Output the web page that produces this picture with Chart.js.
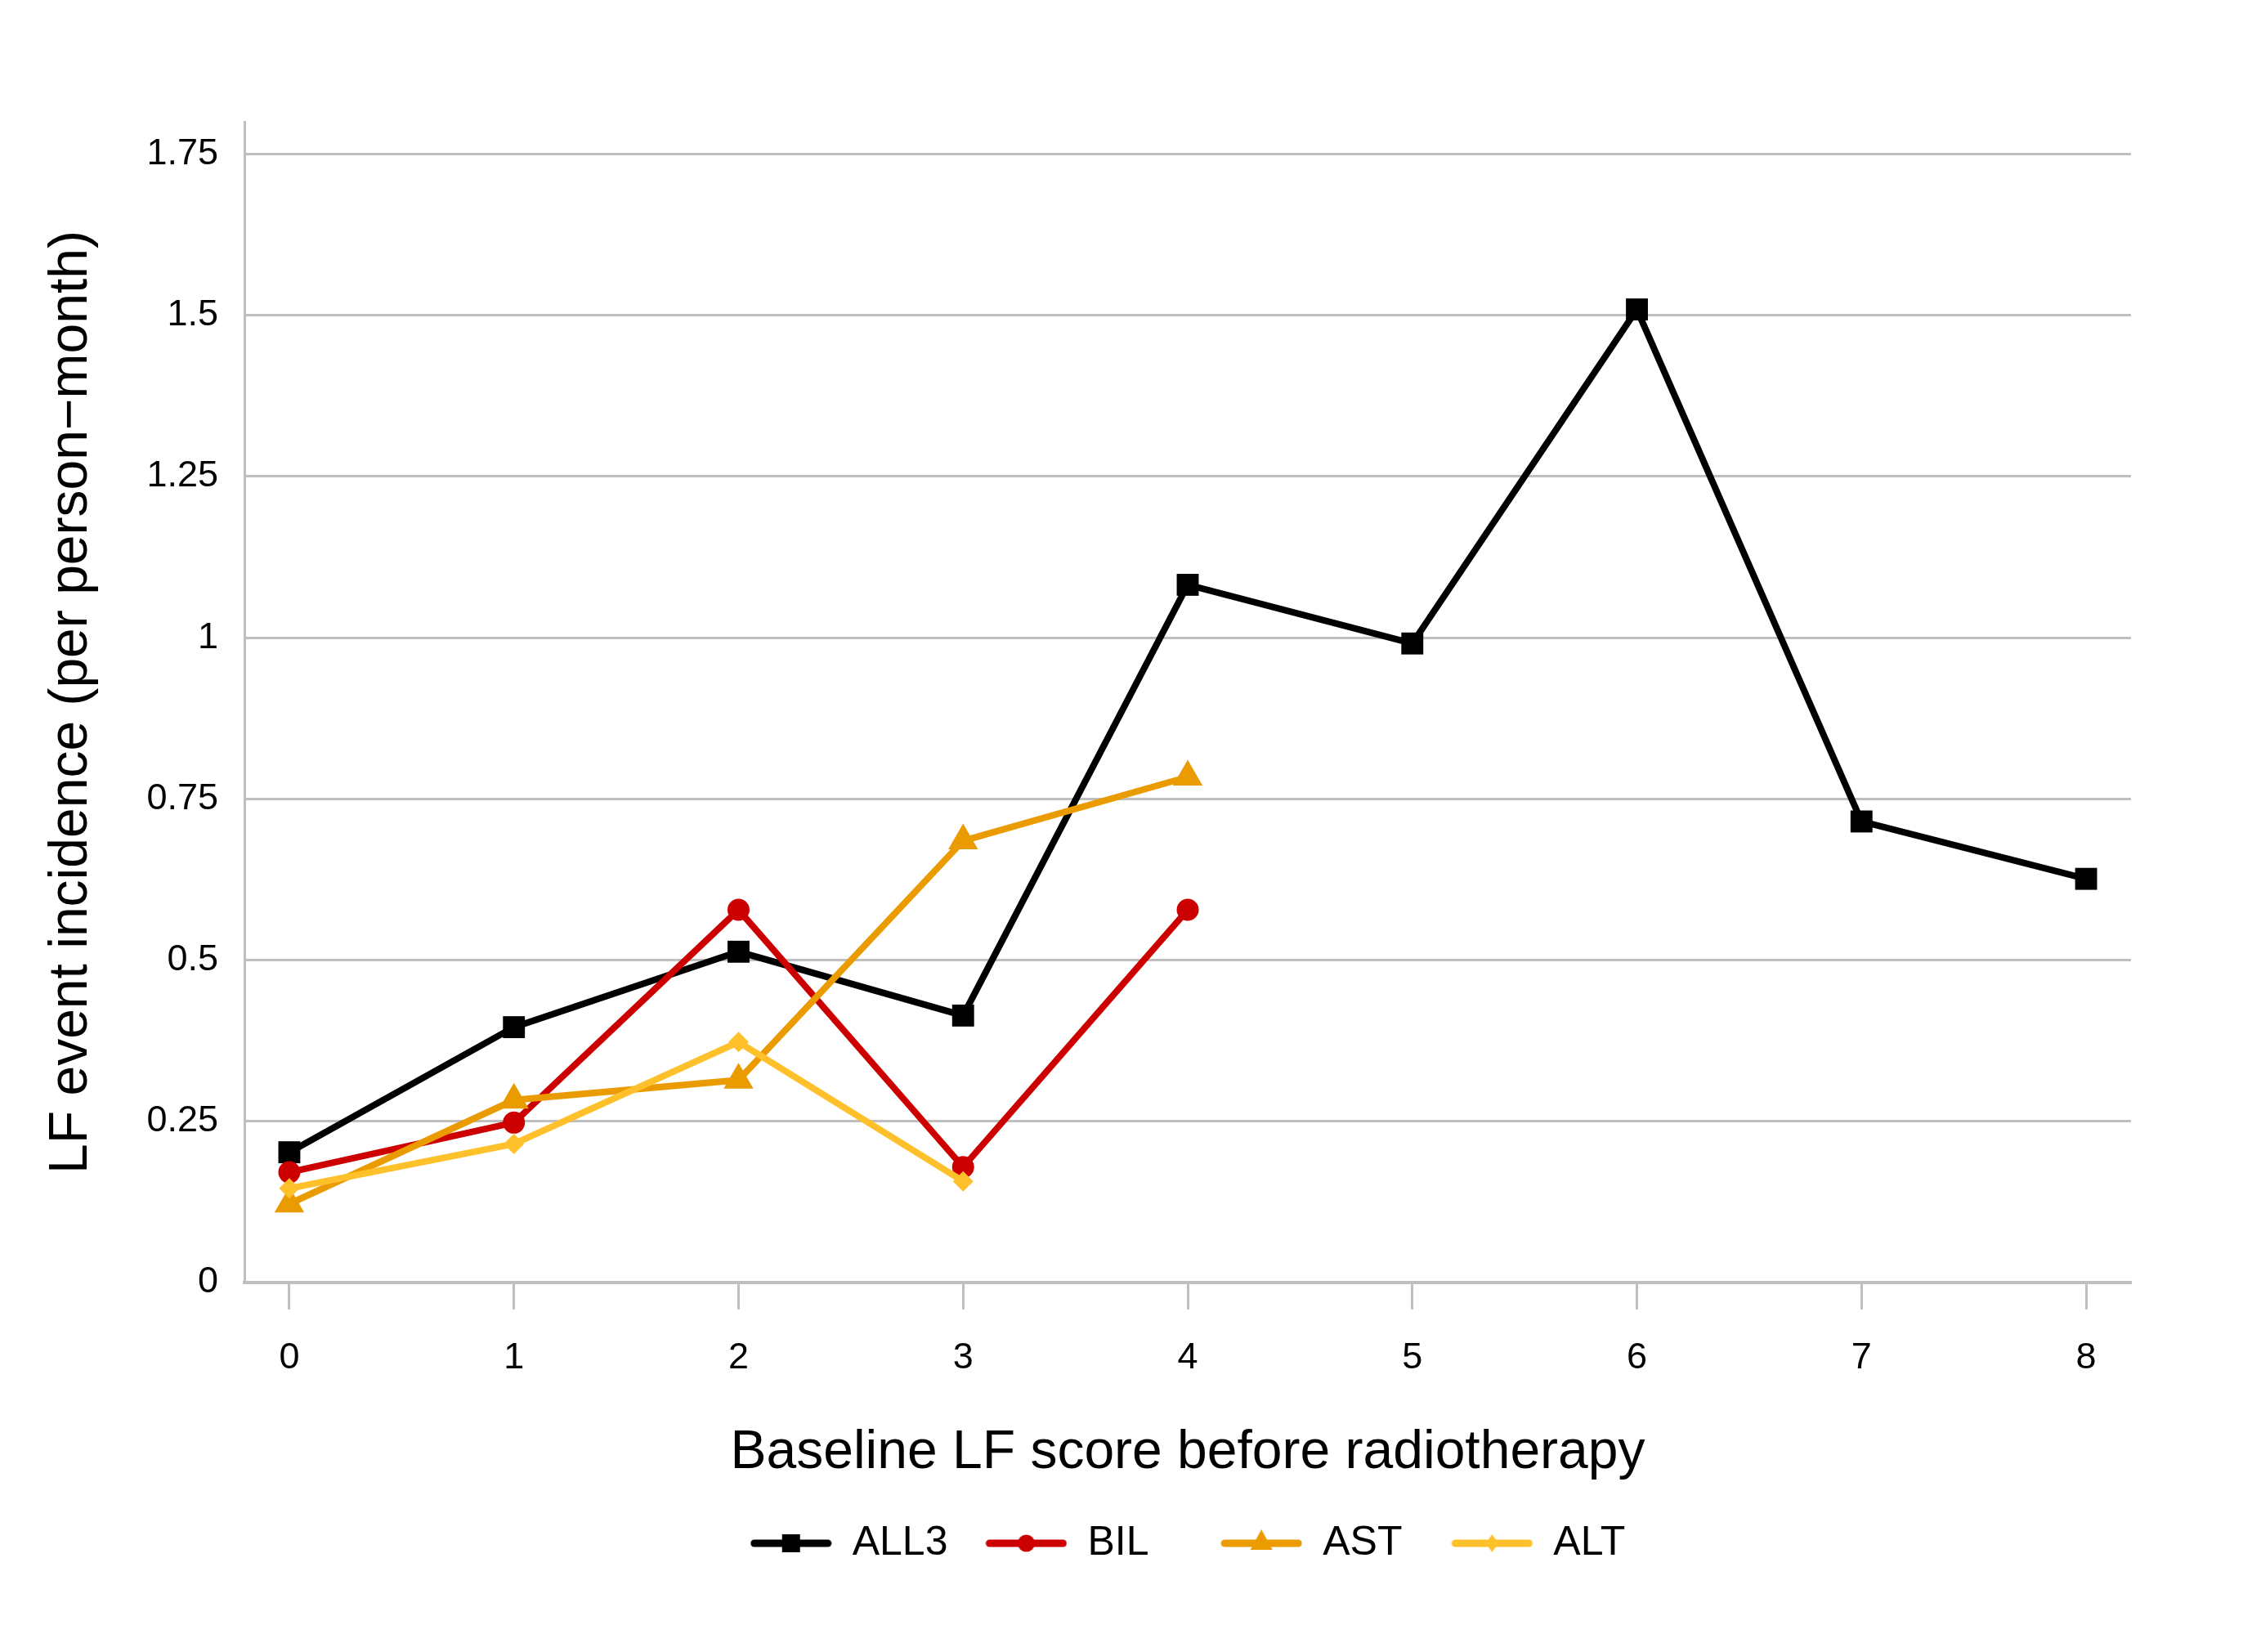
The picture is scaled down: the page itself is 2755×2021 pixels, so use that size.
<!DOCTYPE html>
<html>
<head>
<meta charset="utf-8">
<script src="https://cdn.jsdelivr.net/npm/chart.js@4.4.1/dist/chart.umd.min.js"></script>
<style>
  html, body { margin: 0; padding: 0; background: #ffffff; }
  #wrap { width: 2755px; height: 2021px; }
</style>
</head>
<body>
<div id="wrap"><canvas id="c" width="2755" height="2021"></canvas></div>
<script>
// ---- data ----
const scores = [0, 1, 2, 3, 4, 5, 6, 7, 8];
const all3 = [0.202, 0.396, 0.513, 0.414, 1.082, 0.991, 1.509, 0.715, 0.626];
const bil  = [0.171, 0.248, 0.578, 0.179, 0.578];
const ast  = [0.122, 0.283, 0.314, 0.685, 0.784];
const alt  = [0.146, 0.215, 0.373, 0.157];
const seriesNames = ['ALL3', 'BIL', 'AST', 'ALT'];
const yTicks = [0, 0.25, 0.5, 0.75, 1, 1.25, 1.5, 1.75];
const yTickLabels = ['0', '0.25', '0.5', '0.75', '1', '1.25', '1.5', '1.75'];
const xTitle = 'Baseline LF score before radiotherapy';
const yTitle = 'LF event incidence (per person\u2212month)';

const colors = ['#000000', '#CC0000', '#EA9B00', '#FFC12B'];
const FONT = "'Liberation Sans', Arial, Helvetica, sans-serif";
const LEGEND_SIZE = 50;

function toPoints(vals) { return vals.map((v, i) => ({ x: scores[i], y: v })); }

function makeIcon(color, shape) {
  const c = document.createElement('canvas');
  c.width = 100; c.height = 40;
  const g = c.getContext('2d');
  g.strokeStyle = color; g.lineWidth = 9; g.lineCap = 'round';
  g.beginPath(); g.moveTo(5, 20); g.lineTo(95, 20); g.stroke();
  g.fillStyle = color; g.beginPath();
  if (shape === 'rect') { g.rect(39, 9, 22, 22); }
  else if (shape === 'circle') { g.arc(50, 20, 10.5, 0, Math.PI * 2); }
  else if (shape === 'triangle') { g.moveTo(50, 3); g.lineTo(63.5, 28); g.lineTo(36.5, 28); g.closePath(); }
  else { g.moveTo(50, 9); g.lineTo(57.5, 20); g.lineTo(50, 31); g.lineTo(42.5, 20); g.closePath(); }
  g.fill();
  return c;
}
const shapes = ['rect', 'circle', 'triangle', 'rectRot'];
const radii = [19, 13.5, 21, 12.5];
const icons = shapes.map((s, i) => makeIcon(colors[i], s));
const seriesData = [all3, bil, ast, alt];

// legend entries laid out in equal-width columns (pad shorter names with spaces)
const measureCtx = document.createElement('canvas').getContext('2d');
measureCtx.font = LEGEND_SIZE + 'px ' + FONT;
const maxNameW = Math.max(...seriesNames.map(n => measureCtx.measureText(n).width));
function padName(name, isLast) {
  if (isLast) return name;
  let t = name;
  while (Math.abs(measureCtx.measureText(t + ' ').width - maxNameW) < Math.abs(measureCtx.measureText(t).width - maxNameW)) t += ' ';
  return t;
}

const datasets = seriesData.map((vals, i) => ({
  label: seriesNames[i],
  data: toPoints(vals),
  borderColor: colors[i],
  backgroundColor: colors[i],
  borderWidth: 8,
  pointStyle: shapes[i],
  pointRadius: radii[i],
  pointHoverRadius: radii[i],
  pointBorderWidth: 0,
  pointBackgroundColor: colors[i],
  tension: 0,
  order: 4 - i
}));

new Chart(document.getElementById('c'), {
  type: 'line',
  data: { datasets },
  options: {
    responsive: false,
    animation: false,
    devicePixelRatio: 1,
    layout: { padding: { left: 48, right: 148, top: 149, bottom: 98 } },
    plugins: {
      tooltip: { enabled: false },
      legend: {
        position: 'bottom',
        fullSize: false,
        labels: {
          usePointStyle: true,
          pointStyleWidth: 100,
          padding: 46,
          color: '#000',
          font: { family: FONT, size: LEGEND_SIZE },
          generateLabels: (chart) => chart.data.datasets.map((ds, i, arr) => ({
            text: padName(ds.label, i === arr.length - 1),
            fillStyle: ds.borderColor,
            strokeStyle: ds.borderColor,
            lineWidth: 0,
            pointStyle: icons[i],
            hidden: false,
            datasetIndex: i,
            fontColor: '#000'
          }))
        }
      }
    },
    scales: {
      x: {
        type: 'linear',
        min: -0.2,
        max: 8.2,
        afterBuildTicks: (s) => { s.ticks = scores.map(v => ({ value: v })); },
        afterFit: (s) => { s.height = 248; },
        ticks: {
          color: '#000',
          font: { family: FONT, size: 45 },
          padding: 33,
          maxRotation: 0,
          callback: (v) => String(v)
        },
        grid: {
          drawOnChartArea: false,
          drawTicks: true,
          tickLength: 33,
          tickColor: '#BFBFBF',
          tickWidth: 3
        },
        border: { display: true, color: '#BFBFBF', width: 4 },
        title: {
          display: true,
          text: xTitle,
          color: '#000',
          font: { family: FONT, size: 66 },
          padding: { top: 0, bottom: 0 }
        }
      },
      y: {
        type: 'linear',
        min: 0,
        max: 1.8,
        afterBuildTicks: (s) => { s.ticks = yTicks.map(v => ({ value: v })); },
        afterFit: (s) => { s.width = 251; },
        ticks: {
          color: '#000',
          font: { family: FONT, size: 45 },
          padding: 32,
          callback: (v, i) => yTickLabels[i]
        },
        grid: {
          color: '#BFBFBF',
          lineWidth: 3,
          drawTicks: false
        },
        border: { display: true, color: '#BFBFBF', width: 3 },
        title: {
          display: true,
          text: yTitle,
          color: '#000',
          font: { family: FONT, size: 66 },
          padding: { top: 0, bottom: 0 }
        }
      }
    }
  }
});
</script>
</body>
</html>
